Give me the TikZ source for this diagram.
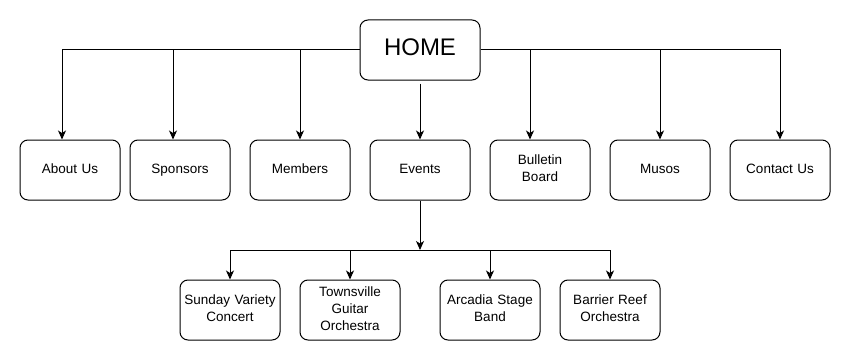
\documentclass[tikz,border=0pt]{standalone}
\usepackage{fontspec}
\setmainfont{Liberation Sans}
\usetikzlibrary{arrows.meta}
\begin{document}
\begin{tikzpicture}[x=1pt,y=-1pt,
  page/.style={draw=black,line width=1pt,rounded corners=8pt,fill=white,
    minimum width=100pt,minimum height=60pt,inner sep=1pt,align=center,
    font=\fontsize{13.5}{17}\selectfont,text width=98pt,
    execute at begin node=\strut,execute at end node=\strut},
  homebox/.style={page,minimum width=120pt,text width=118pt,font=\fontsize{24}{28}\selectfont},
  link/.style={line width=1pt,-{Stealth[length=9pt,width=8pt,inset=2.5pt]}}]
\useasboundingbox (0,0) rectangle (851,361);

% top level
\node[homebox] (home) at (420,50) {HOME};

% second level
\node[page] (about)    at (70,170)  {About Us};
\node[page] (sponsors) at (180,170) {Sponsors};
\node[page] (members)  at (300,170) {Members};
\node[page] (events)   at (420,170) {Events};
\node[page] (bulletin) at (540,170) {Bulletin\\Board};
\node[page] (musos)    at (660,170) {Musos};
\node[page] (contact)  at (780,170) {Contact Us};

% event pages
\node[page] (sunday)     at (230,310) {Sunday Variety\\Concert};
\node[page] (townsville) at (350,310) {Townsville\\Guitar\\Orchestra};
\node[page] (arcadia)    at (490,310) {Arcadia Stage\\Band};
\node[page] (barrier)    at (610,310) {Barrier Reef\\Orchestra};

% links from the home page
\draw[link] (home.west) -| ([xshift=-8pt]about.north);
\draw[link] (home.west) -| ([xshift=-7pt]sponsors.north);
\draw[link] (home.west) -| (members.north);
\draw[link,shorten <=3pt] (home.south) -- (events.north);
\draw[link] (home.east) -| ([xshift=-10pt]bulletin.north);
\draw[link] (home.east) -| (musos.north);
\draw[link] (home.east) -| (contact.north);

% links from the events page
\coordinate (hub) at (events.south |- 0,250);
\draw[link] (events.south) -- (hub);
\draw[link] (hub) -| (sunday.north);
\draw[link] (hub) -| (townsville.north);
\draw[link] (hub) -| (arcadia.north);
\draw[link] (hub) -| (barrier.north);
\end{tikzpicture}
\end{document}
